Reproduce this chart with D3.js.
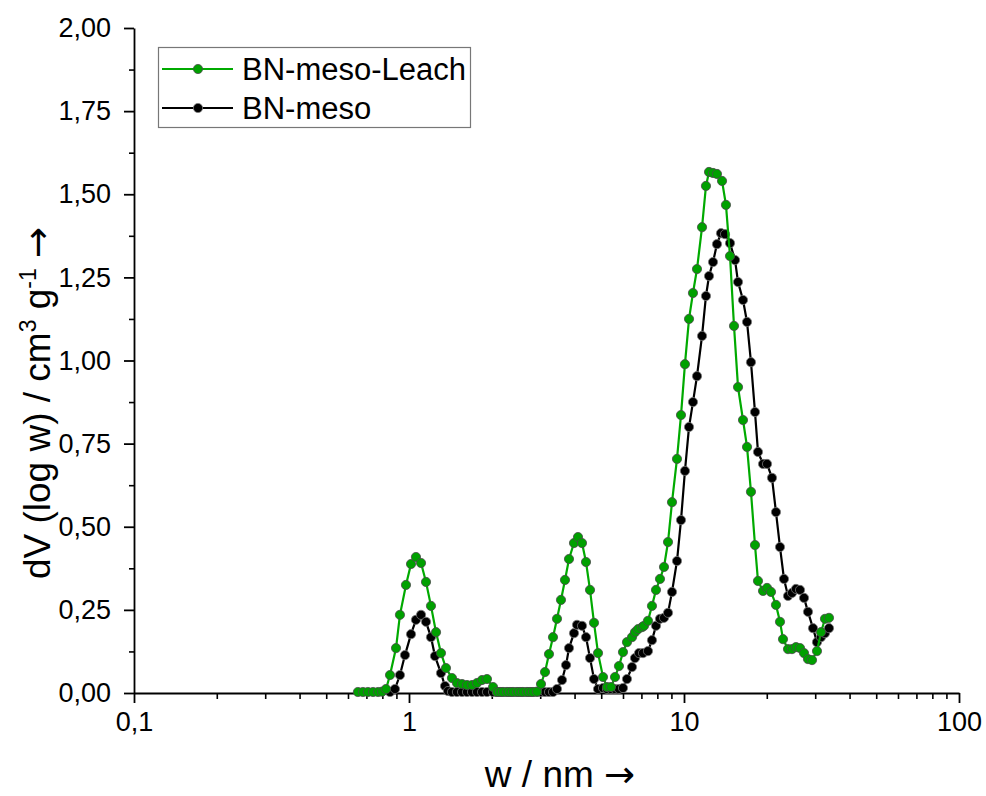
<!DOCTYPE html>
<html>
<head>
<meta charset="utf-8">
<script src="https://cdn.jsdelivr.net/npm/d3@7"></script>
<style>
  body { margin: 0; background: #fff; }
  text { font-family: "Liberation Sans", Arial, sans-serif; }
</style>
</head>
<body>
<div id="chart"></div>
<script>
// Series values (w in nm, dV(log w) in cm3/g)
const leachW = [0.652, 0.680, 0.709, 0.740, 0.772, 0.798, 0.825, 0.853, 0.897, 0.927, 0.975, 1.017, 1.060, 1.106, 1.153, 1.202, 1.254, 1.307, 1.363, 1.433,
  1.494, 1.559, 1.625, 1.695, 1.767, 1.843, 1.921, 2.021, 2.089, 2.143, 2.197, 2.272, 2.330, 2.389, 2.470, 2.533, 2.597, 2.686, 2.754, 2.824,
  2.921, 3.020, 3.123, 3.229, 3.339, 3.453, 3.570, 3.692, 3.818, 3.981, 4.117, 4.257, 4.402, 4.552, 4.707, 4.868, 5.076, 5.248, 5.427, 5.612,
  5.801, 6.000, 6.204, 6.470, 6.634, 6.803, 7.035, 7.154, 7.396, 7.648, 7.910, 8.179, 8.458, 8.747, 9.045, 9.430, 9.752, 10.08, 10.43, 10.78,
  11.15, 11.63, 12.02, 12.33, 12.75, 13.18, 13.75, 14.21, 14.70, 15.20, 15.72, 16.39, 16.95, 17.52, 18.12, 18.58, 19.38, 20.04, 20.72, 21.60,
  22.34, 22.91, 23.89, 24.70, 25.54, 26.42, 27.32, 28.24, 29.21, 30.45, 31.49, 32.56, 33.67];
const leachV = [0.003, 0.003, 0.003, 0.003, 0.003, 0.004, 0.012, 0.054, 0.135, 0.235, 0.325, 0.388, 0.409, 0.391, 0.334, 0.262, 0.183, 0.120, 0.075, 0.045,
  0.030, 0.027, 0.024, 0.024, 0.030, 0.039, 0.042, 0.018, 0.003, 0.003, 0.003, 0.003, 0.003, 0.003, 0.003, 0.003, 0.003, 0.003, 0.003, 0.003,
  0.004, 0.027, 0.063, 0.117, 0.168, 0.223, 0.280, 0.340, 0.403, 0.451, 0.469, 0.451, 0.394, 0.310, 0.211, 0.120, 0.048, 0.018, 0.018, 0.048,
  0.081, 0.123, 0.153, 0.168, 0.183, 0.192, 0.198, 0.202, 0.217, 0.262, 0.310, 0.343, 0.379, 0.454, 0.574, 0.704, 0.836, 0.989, 1.125, 1.203,
  1.275, 1.401, 1.525, 1.567, 1.564, 1.561, 1.540, 1.468, 1.314, 1.104, 0.920, 0.821, 0.740, 0.605, 0.445, 0.337, 0.307, 0.316, 0.304, 0.265,
  0.214, 0.162, 0.132, 0.132, 0.138, 0.135, 0.120, 0.102, 0.099, 0.126, 0.183, 0.223, 0.226];

const mesoW = [0.853, 0.889, 0.927, 0.967, 1.017, 1.060, 1.106, 1.153, 1.202, 1.243, 1.307, 1.352, 1.386, 1.433, 1.494, 1.559, 1.625, 1.695, 1.767, 1.843,
  1.921, 2.021, 2.089, 2.143, 2.197, 2.272, 2.330, 2.389, 2.470, 2.533, 2.597, 2.686, 2.754, 2.824, 2.921, 3.020, 3.123, 3.229, 3.339, 3.453,
  3.601, 3.724, 3.818, 3.981, 4.083, 4.257, 4.402, 4.552, 4.707, 4.868, 5.076, 5.248, 5.427, 5.612, 5.801, 6.000, 6.204, 6.470, 6.634, 6.861,
  7.094, 7.396, 7.648, 7.910, 8.179, 8.458, 8.747, 9.045, 9.430, 9.752, 10.08, 10.43, 10.78, 11.15, 11.63, 12.02, 12.33, 12.75, 13.18, 13.63,
  14.10, 14.70, 15.33, 15.72, 16.39, 16.95, 17.52, 18.12, 18.58, 19.38, 20.04, 20.89, 21.60, 22.34, 23.10, 23.89, 24.70, 25.54, 26.42, 27.32,
  28.24, 29.45, 30.45, 31.49, 32.56, 33.67];
const mesoV = [0.003, 0.012, 0.054, 0.114, 0.177, 0.220, 0.235, 0.214, 0.168, 0.111, 0.060, 0.021, 0.006, 0.003, 0.003, 0.003, 0.003, 0.003, 0.003, 0.003,
  0.003, 0.003, 0.003, 0.003, 0.003, 0.003, 0.003, 0.003, 0.003, 0.003, 0.003, 0.003, 0.003, 0.003, 0.003, 0.003, 0.003, 0.003, 0.003, 0.012,
  0.039, 0.084, 0.135, 0.180, 0.205, 0.202, 0.168, 0.105, 0.042, 0.012, 0.015, 0.012, 0.012, 0.012, 0.012, 0.015, 0.042, 0.078, 0.105, 0.120,
  0.120, 0.126, 0.159, 0.202, 0.223, 0.226, 0.241, 0.304, 0.397, 0.520, 0.668, 0.800, 0.875, 0.953, 1.074, 1.194, 1.254, 1.296, 1.350, 1.383,
  1.380, 1.353, 1.302, 1.236, 1.182, 1.116, 0.995, 0.845, 0.725, 0.689, 0.689, 0.647, 0.544, 0.439, 0.343, 0.292, 0.301, 0.313, 0.310, 0.286,
  0.244, 0.195, 0.153, 0.168, 0.180, 0.195];

const seriesNames = ["BN-meso-Leach", "BN-meso"];
const xTickValues = [0.1, 1, 10, 100];
const xTickLabels = ["0,1", "1", "10", "100"];
const yTickValues = [0, 0.25, 0.5, 0.75, 1, 1.25, 1.5, 1.75, 2];

// Dimensions
const width = 986, height = 796;
const margin = {left: 134, right: 27, top: 28, bottom: 103};

const svg = d3.select("#chart")
    .append("svg")
    .attr("width", width)
    .attr("height", height);

svg.append("rect").attr("width", width).attr("height", height).attr("fill", "#fff");

const xScale = d3.scaleLog()
    .domain([0.1, 100])
    .range([margin.left, width - margin.right]);

const yScale = d3.scaleLinear()
    .domain([0, 2])
    .range([height - margin.bottom, margin.top]);

const fmt = d3.format(".2f");

// minor ticks
const xMinor = [];
[0.1, 1, 10].forEach(function(dec) {
    for (let k = 2; k <= 9; k++) xMinor.push(dec * k);
});
const yMinor = d3.range(0.125, 2, 0.25);

svg.append("g")
    .attr("transform", `translate(0,${height - margin.bottom})`)
    .call(d3.axisBottom(xScale).tickValues(xMinor).tickSize(6).tickFormat(""))
    .call(g => g.select(".domain").remove())
    .selectAll("line").attr("stroke", "#000").attr("stroke-width", 1.6);

svg.append("g")
    .attr("transform", `translate(${margin.left},0)`)
    .call(d3.axisLeft(yScale).tickValues(yMinor).tickSize(5).tickFormat(""))
    .call(g => g.select(".domain").remove())
    .selectAll("line").attr("stroke", "#000").attr("stroke-width", 1.6);

// x axis
const xAxis = svg.append("g")
    .attr("transform", `translate(0,${height - margin.bottom})`)
    .call(d3.axisBottom(xScale)
        .tickValues(xTickValues)
        .tickSize(10)
        .tickPadding(9)
        .tickSizeOuter(0)
        .tickFormat((d, i) => xTickLabels[i]));
xAxis.select(".domain").attr("stroke-width", 1.8);
xAxis.selectAll("line").attr("stroke-width", 1.8);
xAxis.selectAll("text").style("font-size", "27px").attr("fill", "#000");

// y axis
const yAxis = svg.append("g")
    .attr("transform", `translate(${margin.left},0)`)
    .call(d3.axisLeft(yScale)
        .tickValues(yTickValues)
        .tickSize(10)
        .tickPadding(13)
        .tickSizeOuter(0)
        .tickFormat(d => fmt(d).replace(".", ",")));
yAxis.select(".domain").attr("stroke-width", 1.8);
yAxis.selectAll("line").attr("stroke-width", 1.8);
yAxis.selectAll("text").style("font-size", "27px").attr("fill", "#000");

// axis titles
const xTitle = svg.append("text")
    .attr("x", 560)
    .attr("y", 787)
    .attr("text-anchor", "middle")
    .style("font-size", "37px");
xTitle.append("tspan").text("w / nm ");
xTitle.append("tspan").style("font-family", "DejaVu Sans").text("\u2192");

const yTitle = svg.append("text")
    .attr("transform", "translate(50,403) rotate(-90)")
    .attr("text-anchor", "middle")
    .style("font-size", "37px");
yTitle.append("tspan").text("dV (log w) / cm");
yTitle.append("tspan").attr("dy", -14).style("font-size", "23px").text("3");
yTitle.append("tspan").attr("dy", 14).text(" g");
yTitle.append("tspan").attr("dy", -14).style("font-size", "23px").text("-1");
yTitle.append("tspan").attr("dy", 14).text(" ");
yTitle.append("tspan").style("font-family", "DejaVu Sans").text("\u2192");

// series
const dataReady = [
    {name: seriesNames[1], line: "#000000", fill: "#000000", stroke: "#777",
     values: mesoW.map((w, i) => ({w: w, v: mesoV[i]}))},
    {name: seriesNames[0], line: "#00aa00", fill: "#00a000", stroke: "#4a4a4a",
     values: leachW.map((w, i) => ({w: w, v: leachV[i]}))}
];

const line = d3.line()
    .x(d => xScale(d.w))
    .y(d => yScale(d.v));

dataReady.forEach(function(s) {
    const g = svg.append("g");
    g.append("path")
        .datum(s.values)
        .attr("fill", "none")
        .attr("stroke", s.line)
        .attr("stroke-width", 2.2)
        .attr("d", line);
    g.selectAll("circle")
        .data(s.values)
        .enter()
        .append("circle")
        .attr("cx", d => xScale(d.w))
        .attr("cy", d => yScale(d.v))
        .attr("r", 4.6)
        .attr("fill", s.fill)
        .attr("stroke", s.stroke)
        .attr("stroke-width", 0.8);
});

// legend
const legend = svg.append("g");
legend.append("rect")
    .attr("x", 158.5).attr("y", 47.5)
    .attr("width", 312).attr("height", 80)
    .attr("fill", "#fff")
    .attr("stroke", "#777")
    .attr("stroke-width", 1.2);

const legendItems = [
    {name: seriesNames[0], line: "#00aa00", fill: "#00a000", stroke: "#4a4a4a", y: 69},
    {name: seriesNames[1], line: "#000000", fill: "#000000", stroke: "#777", y: 108}
];
legendItems.forEach(function(it) {
    legend.append("line")
        .attr("x1", 162).attr("x2", 233)
        .attr("y1", it.y).attr("y2", it.y)
        .attr("stroke", it.line).attr("stroke-width", 2.2);
    legend.append("circle")
        .attr("cx", 198).attr("cy", it.y).attr("r", 4.6)
        .attr("fill", it.fill).attr("stroke", it.stroke).attr("stroke-width", 0.8);
    legend.append("text")
        .attr("x", 242).attr("y", it.y + 11)
        .style("font-size", "31px")
        .text(it.name);
});
</script>
</body>
</html>
